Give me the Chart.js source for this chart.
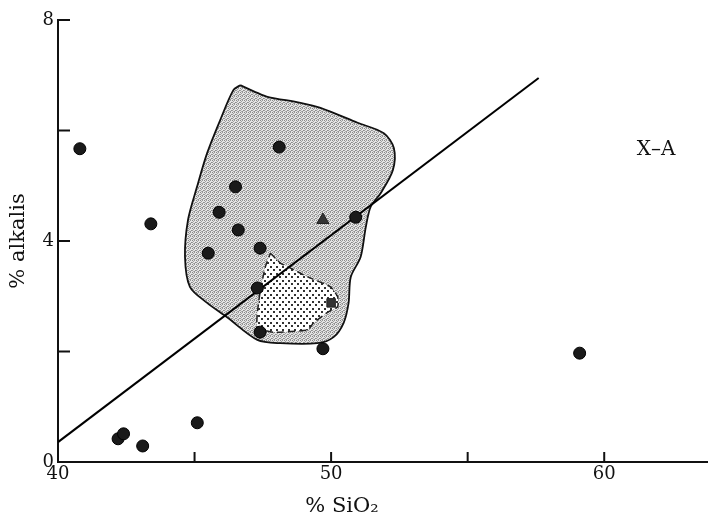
<!DOCTYPE html>
<html>
<head>
<meta charset="utf-8">
<script src="https://cdn.jsdelivr.net/npm/chart.js@4.4.1/dist/chart.umd.min.js"></script>
<style>
  html, body { margin: 0; padding: 0; background: #fff; overflow: hidden; }
  #wrap { width: 708px; height: 520px; position: relative; }
</style>
</head>
<body>
<div id="wrap"><canvas id="chart"></canvas></div>
<script>
// data
const sio2 = [40.8, 43.4, 42.2, 42.4, 43.1, 45.1, 49.7, 59.1, 48.1, 46.5, 45.9, 46.6, 45.5, 47.4, 47.3, 47.4, 50.9];
const alkalis = [5.67, 4.31, 0.42, 0.51, 0.29, 0.71, 2.05, 1.97, 5.70, 4.98, 4.52, 4.20, 3.78, 3.87, 3.15, 2.35, 4.43];
const triX = [49.7], triY = [4.38];
const sqX = [50.0], sqY = [2.88];

const lineX = [40, 57.6];
const lineY = [0.36, 6.95];

const outerX = [46.67, 47.30, 47.67, 48.88, 49.61, 50.97, 51.93, 52.30, 52.26, 51.82, 51.45, 51.27, 51.08, 50.72, 50.64, 50.46, 50.09, 49.50, 48.14, 47.30, 46.19, 45.46, 44.83, 44.65, 44.76, 45.09, 45.46, 45.94, 46.42, 46.67];
const outerY = [6.82, 6.68, 6.61, 6.50, 6.41, 6.14, 5.95, 5.68, 5.28, 4.87, 4.62, 4.25, 3.71, 3.35, 2.88, 2.52, 2.26, 2.15, 2.15, 2.21, 2.62, 2.88, 3.17, 3.71, 4.38, 4.98, 5.59, 6.19, 6.73, 6.82];

const innerX = [47.78, 48.14, 48.51, 49.14, 49.98, 50.24, 50.24, 49.87, 49.36, 49.14, 47.89, 47.30, 47.30, 47.41, 47.59, 47.78];
const innerY = [3.78, 3.60, 3.51, 3.35, 3.17, 2.99, 2.81, 2.71, 2.52, 2.39, 2.35, 2.43, 2.70, 3.11, 3.53, 3.78];

const xTicks = [40, 50, 60];
const yTicks = [0, 4, 8];

const pts = (xs, ys) => xs.map((x, i) => ({ x: x, y: ys[i] }));

function makePattern(w, h, bg, dots) {
  const c = document.createElement('canvas');
  c.width = w; c.height = h;
  const g = c.getContext('2d');
  g.fillStyle = bg;
  g.fillRect(0, 0, w, h);
  dots.forEach(d => { g.fillStyle = d[3]; g.fillRect(d[0], d[1], d[2], d[2]); });
  return g.createPattern(c, 'repeat');
}
const ctx = document.getElementById('chart').getContext('2d');
const grayFill = makePattern(4, 4, '#e4e4e4', [
  [0, 0, 1, '#888'], [2, 0, 1, '#9a9a9a'], [1, 1, 1, '#a0a0a0'], [3, 2, 1, '#8a8a8a'],
  [0, 2, 1, '#9c9c9c'], [2, 3, 1, '#909090'], [1, 3, 1, '#b0b0b0']
]);
const dotFill = makePattern(6, 7, '#ffffff', [[0, 0, 2, '#333'], [3, 3, 2, '#333']]);

const serif = "'DejaVu Serif', 'Liberation Serif', serif";

// inward tick marks + free text
const extras = {
  id: 'extras',
  afterDraw(chart) {
    const c = chart.ctx, xs = chart.scales.x, ys = chart.scales.y;
    const a = chart.chartArea;
    c.save();
    c.strokeStyle = '#111';
    c.lineWidth = 2;
    xs.ticks.forEach(t => {
      if (t.value === 40) return;
      const px = xs.getPixelForValue(t.value);
      c.beginPath(); c.moveTo(px, a.bottom); c.lineTo(px, a.bottom - 10); c.stroke();
    });
    ys.ticks.forEach(t => {
      if (t.value === 0) return;
      const py = ys.getPixelForValue(t.value);
      c.beginPath(); c.moveTo(a.left, py); c.lineTo(a.left + 12, py); c.stroke();
    });
    c.fillStyle = '#111';
    c.font = '21px ' + serif;
    c.textAlign = 'center';
    c.textBaseline = 'middle';
    c.fillText('% SiO\u2082', xs.getPixelForValue(50.4), 507);
    c.font = '20px ' + serif;
    c.fillText('X\u2013A', xs.getPixelForValue(61.9), ys.getPixelForValue(5.65));
    c.restore();
  }
};

new Chart(ctx, {
  type: 'scatter',
  data: {
    datasets: [
      {
        data: pts(sio2, alkalis),
        pointStyle: 'circle',
        pointRadius: 6,
        backgroundColor: '#1a1a1a',
        borderColor: '#000',
        borderWidth: 1
      },
      {
        data: pts(triX, triY),
        pointStyle: 'triangle',
        pointRadius: 7,
        backgroundColor: '#333',
        borderColor: '#222',
        borderWidth: 1
      },
      {
        data: pts(sqX, sqY),
        pointStyle: 'rect',
        pointRadius: 6,
        backgroundColor: '#333',
        borderColor: '#222',
        borderWidth: 1
      },
      {
        data: pts(lineX, lineY),
        showLine: true,
        pointRadius: 0,
        borderColor: '#000',
        borderWidth: 2
      },
      {
        data: pts(innerX, innerY),
        showLine: true,
        pointRadius: 0,
        borderColor: '#222',
        borderWidth: 1.5,
        borderDash: [7, 4],
        tension: 0.15,
        fill: 'shape',
        backgroundColor: dotFill
      },
      {
        data: pts(outerX, outerY),
        showLine: true,
        pointRadius: 0,
        borderColor: '#111',
        borderWidth: 1.8,
        tension: 0.3,
        fill: 'shape',
        backgroundColor: grayFill
      }
    ]
  },
  options: {
    responsive: true,
    maintainAspectRatio: false,
    animation: false,
    layout: { autoPadding: false, padding: { top: 20, right: 0, left: 0, bottom: 0 } },
    plugins: { legend: { display: false }, tooltip: { enabled: false } },
    scales: {
      x: {
        type: 'linear',
        min: 40,
        max: 63.8,
        afterBuildTicks: s => { s.ticks = s.ticks.filter(t => t.value % 5 === 0); },
        afterFit: s => { s.height = 58; },
        ticks: {
          stepSize: 5,
          autoSkip: false,
          maxRotation: 0,
          padding: 2,
          color: '#111',
          font: { family: serif, size: 18 },
          callback: v => xTicks.includes(v) ? String(v) : ''
        },
        grid: { display: true, drawOnChartArea: false, drawTicks: false },
        border: { display: true, color: '#111', width: 2 }
      },
      y: {
        type: 'linear',
        min: 0,
        max: 8,
        afterFit: s => { s.width = 58; },
        ticks: {
          stepSize: 2,
          autoSkip: false,
          padding: 4,
          color: '#111',
          font: { family: serif, size: 18 },
          callback: v => yTicks.includes(v) ? String(v) : ''
        },
        title: {
          display: true,
          text: '% alkalis',
          color: '#111',
          font: { family: serif, size: 21 },
          padding: { top: 6, bottom: 2 }
        },
        grid: { display: true, drawOnChartArea: false, drawTicks: false },
        border: { display: true, color: '#111', width: 2 }
      }
    }
  },
  plugins: [extras]
});
</script>
</body>
</html>
